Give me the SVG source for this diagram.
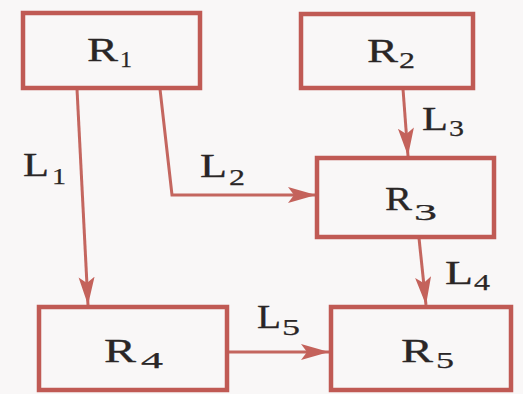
<svg xmlns="http://www.w3.org/2000/svg" width="523" height="394" viewBox="0 0 523 394">
<defs>
<marker id="ah" markerUnits="userSpaceOnUse" markerWidth="30" markerHeight="18" refX="28" refY="8" orient="auto">
<path d="M0,0 L28,8 L0,16 L6,8 Z" fill="#c4625b"/>
</marker>
<style>
.box{fill:none;stroke:#c05a54;stroke-width:4.5}
.ln{fill:none;stroke:#c4665f;stroke-width:3;marker-end:url(#ah)}
.t{font-family:"Liberation Serif","Times New Roman",serif;font-size:34px;fill:#2a2626;stroke:#2a2626;stroke-width:0.3}
.s{font-family:"Liberation Serif","Times New Roman",serif;font-size:24px;fill:#2a2626;stroke:#2a2626;stroke-width:0.25}
</style>
</defs>
<rect width="523" height="394" fill="#f9f7f7"/>
<g id="connectors">
<path class="ln" d="M77,89 L88,305"/>
<path class="ln" d="M160,89 L172,195 L316,195"/>
<path class="ln" d="M403,89 L408,156"/>
<path class="ln" d="M419,238 L426,305"/>
<path class="ln" d="M228,352 L329,352"/>
<text class="t" x="23" y="176" textLength="26" lengthAdjust="spacingAndGlyphs">L</text><text class="s" x="52" y="184" textLength="14" lengthAdjust="spacingAndGlyphs">1</text>
<text class="t" x="200" y="177" textLength="27" lengthAdjust="spacingAndGlyphs">L</text><text class="s" x="229" y="185" textLength="16" lengthAdjust="spacingAndGlyphs">2</text>
<text class="t" x="422" y="130" textLength="26" lengthAdjust="spacingAndGlyphs">L</text><text class="s" x="449" y="136" textLength="15" lengthAdjust="spacingAndGlyphs">3</text>
<text class="t" x="445" y="284" textLength="28" lengthAdjust="spacingAndGlyphs">L</text><text class="s" x="474" y="290" textLength="16" lengthAdjust="spacingAndGlyphs">4</text>
<text class="t" x="257" y="328" textLength="24" lengthAdjust="spacingAndGlyphs">L</text><text class="s" x="282" y="335" textLength="18" lengthAdjust="spacingAndGlyphs">5</text>
</g>
<g id="R1"><rect class="box" x="23" y="13" width="177" height="75"/><text class="t" x="87" y="61" textLength="31" lengthAdjust="spacingAndGlyphs">R</text><text class="s" x="120" y="67" textLength="12" lengthAdjust="spacingAndGlyphs">1</text></g>
<g id="R2"><rect class="box" x="301" y="14" width="172" height="74"/><text class="t" x="367" y="62" textLength="31" lengthAdjust="spacingAndGlyphs">R</text><text class="s" x="399" y="68" textLength="16" lengthAdjust="spacingAndGlyphs">2</text></g>
<g id="R3"><rect class="box" x="317" y="158" width="177" height="79"/><text class="t" x="385" y="210" textLength="27" lengthAdjust="spacingAndGlyphs">R</text><text class="s" x="414" y="220" textLength="23" lengthAdjust="spacingAndGlyphs">3</text></g>
<g id="R4"><rect class="box" x="39" y="307" width="188" height="83"/><text class="t" x="104" y="362" textLength="32" lengthAdjust="spacingAndGlyphs">R</text><text class="s" x="141" y="368" textLength="22" lengthAdjust="spacingAndGlyphs">4</text></g>
<g id="R5"><rect class="box" x="331" y="307" width="180" height="83"/><text class="t" x="401" y="362" textLength="32" lengthAdjust="spacingAndGlyphs">R</text><text class="s" x="436" y="368" textLength="18" lengthAdjust="spacingAndGlyphs">5</text></g>
</svg>
